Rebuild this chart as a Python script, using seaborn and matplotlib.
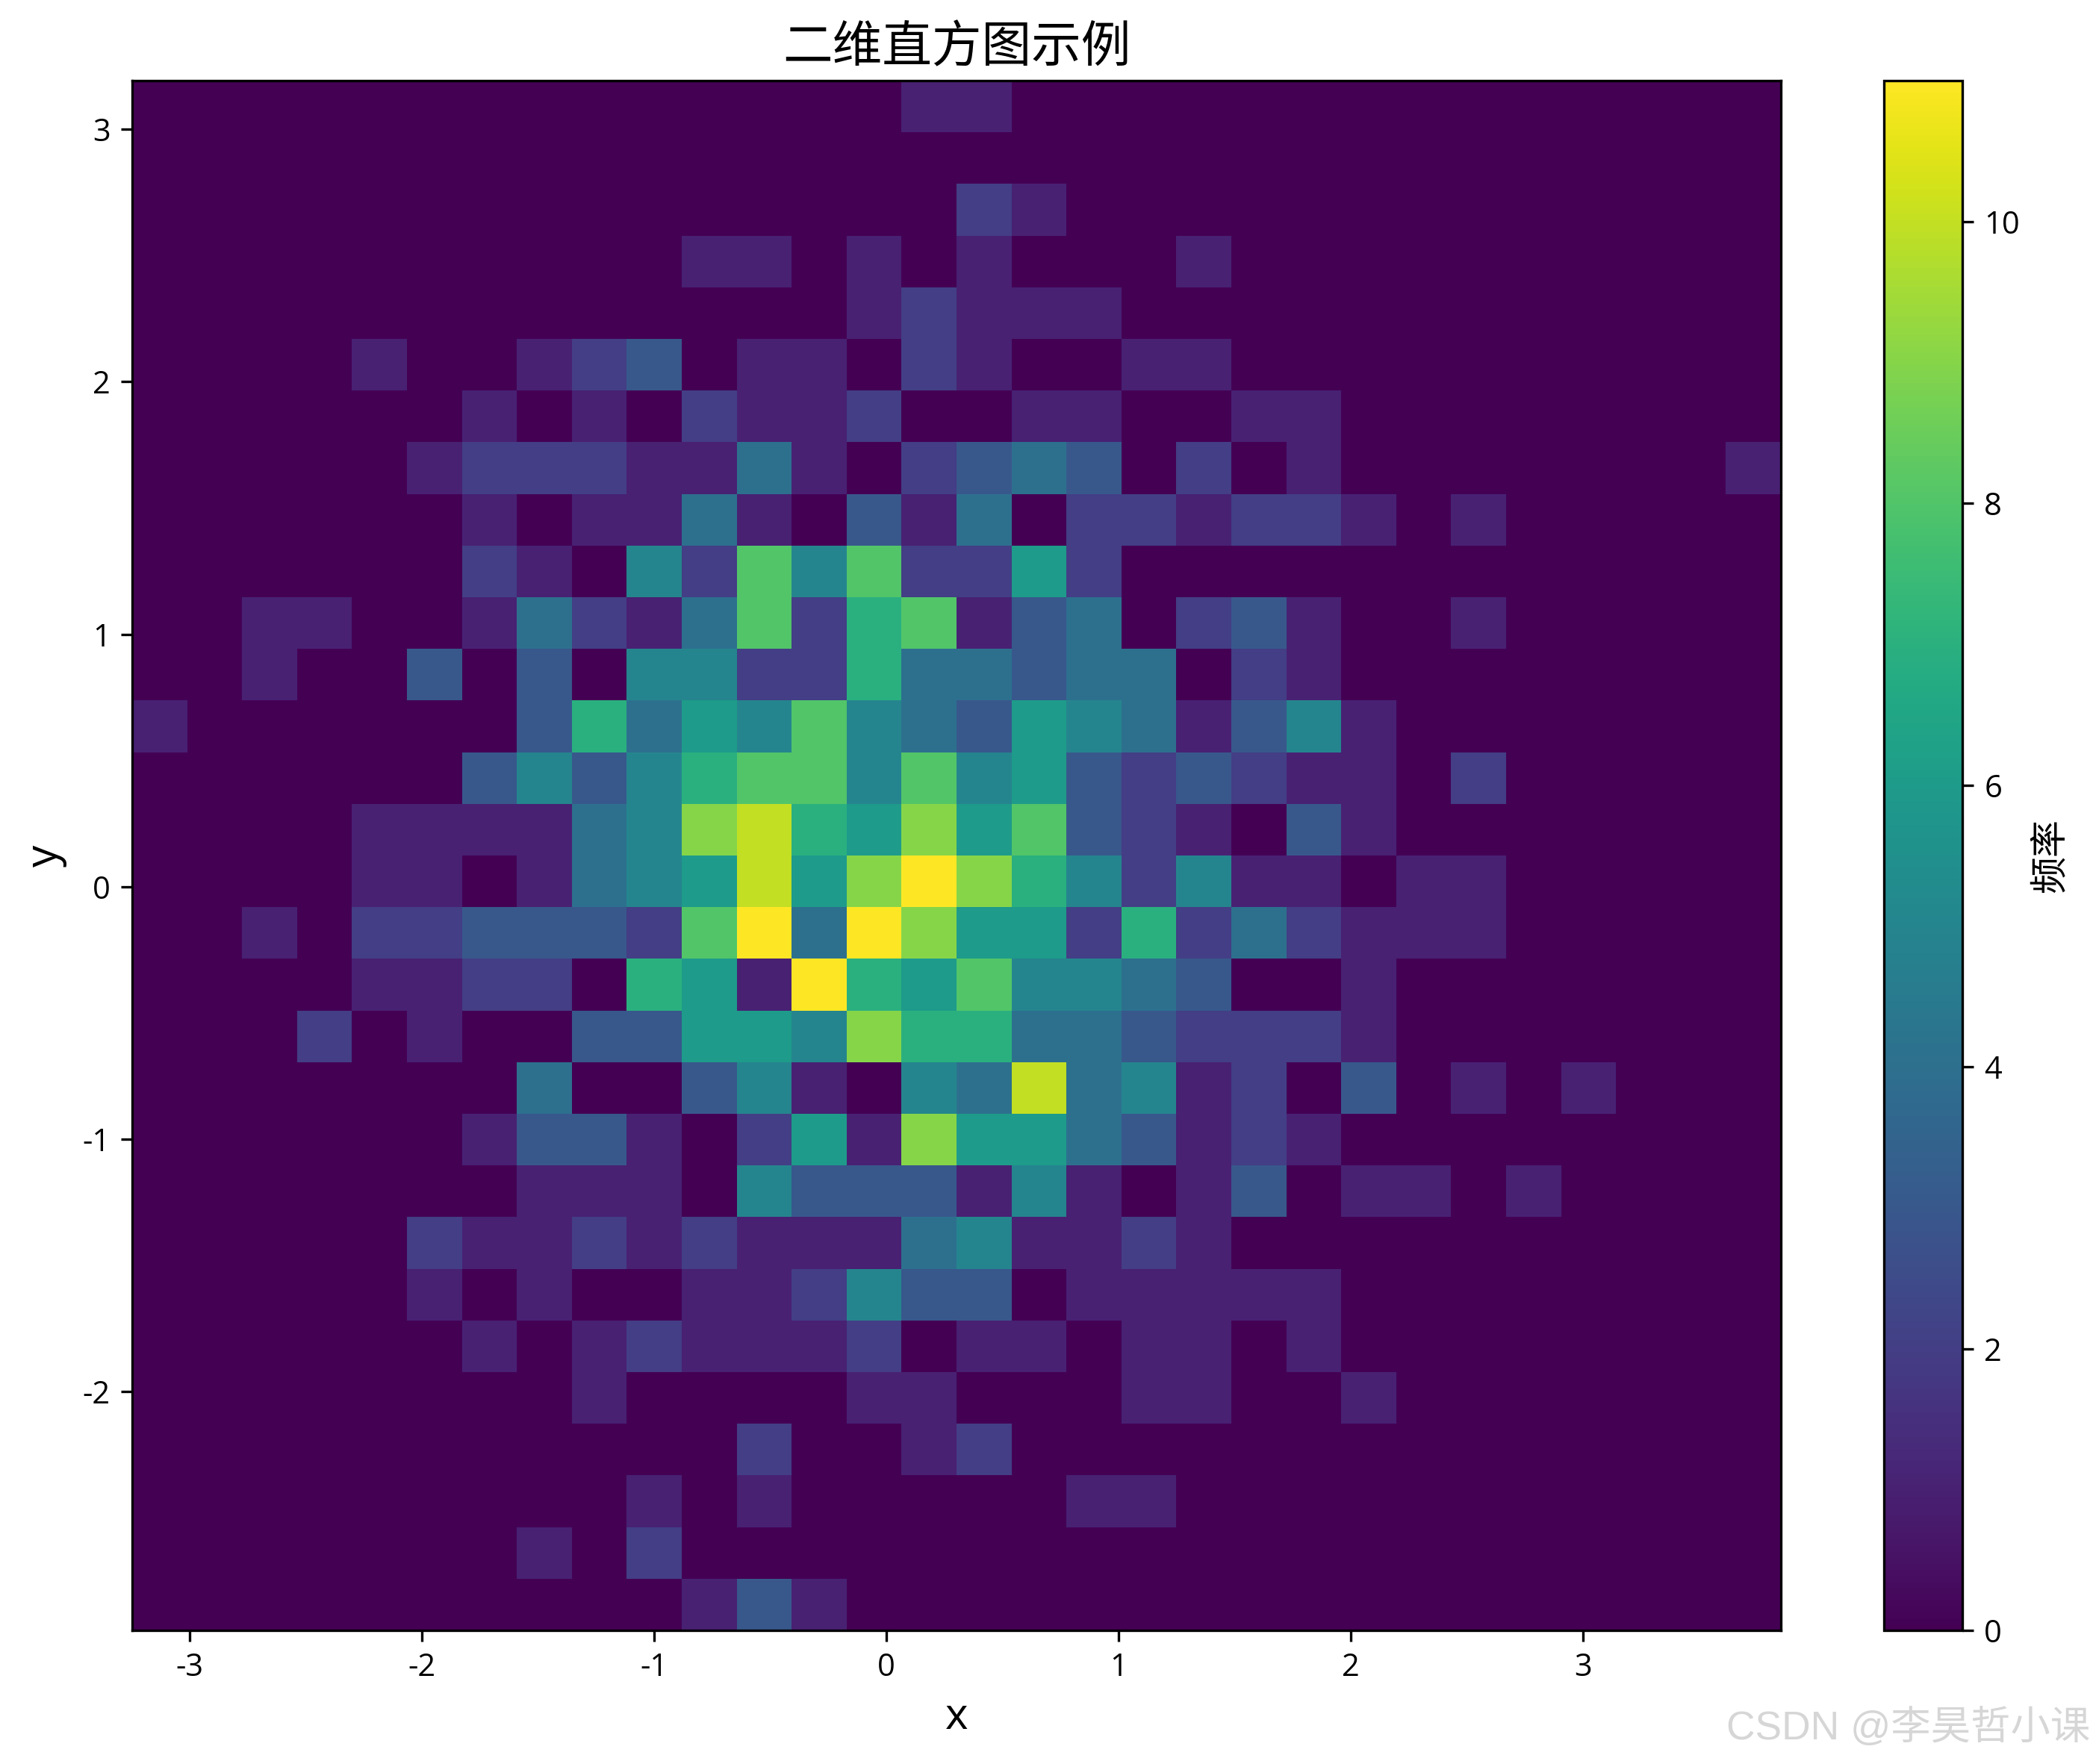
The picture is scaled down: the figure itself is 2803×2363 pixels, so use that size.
import numpy as np
import pandas as pd
import matplotlib
matplotlib.use('Agg')
import matplotlib.pyplot as plt
import seaborn as sns

# 网格范围 (读图得到)
x_min, x_max = -3.246, 3.851
y_min, y_max = -2.945, 3.193
n_bins = 30

# 每行的计数,从上到下
counts = [
    [0,0,0,0,0,0,0,0,0,0,0,0,0,0,1,1,0,0,0,0,0,0,0,0,0,0,0,0,0,0],
    [0,0,0,0,0,0,0,0,0,0,0,0,0,0,0,0,0,0,0,0,0,0,0,0,0,0,0,0,0,0],
    [0,0,0,0,0,0,0,0,0,0,0,0,0,0,0,2,1,0,0,0,0,0,0,0,0,0,0,0,0,0],
    [0,0,0,0,0,0,0,0,0,0,1,1,0,1,0,1,0,0,0,1,0,0,0,0,0,0,0,0,0,0],
    [0,0,0,0,0,0,0,0,0,0,0,0,0,1,2,1,1,1,0,0,0,0,0,0,0,0,0,0,0,0],
    [0,0,0,0,1,0,0,1,2,3,0,1,1,0,2,1,0,0,1,1,0,0,0,0,0,0,0,0,0,0],
    [0,0,0,0,0,0,1,0,1,0,2,1,1,2,0,0,1,1,0,0,1,1,0,0,0,0,0,0,0,0],
    [0,0,0,0,0,1,2,2,2,1,1,4,1,0,2,3,4,3,0,2,0,1,0,0,0,0,0,0,0,1],
    [0,0,0,0,0,0,1,0,1,1,4,1,0,3,1,4,0,2,2,1,2,2,1,0,1,0,0,0,0,0],
    [0,0,0,0,0,0,2,1,0,5,2,8,5,8,2,2,6,2,0,0,0,0,0,0,0,0,0,0,0,0],
    [0,0,1,1,0,0,1,4,2,1,4,8,2,7,8,1,3,4,0,2,3,1,0,0,1,0,0,0,0,0],
    [0,0,1,0,0,3,0,3,0,5,5,2,2,7,4,4,3,4,4,0,2,1,0,0,0,0,0,0,0,0],
    [1,0,0,0,0,0,0,3,7,4,6,5,8,5,4,3,6,5,4,1,3,5,1,0,0,0,0,0,0,0],
    [0,0,0,0,0,0,3,5,3,5,7,8,8,5,8,5,6,3,2,3,2,1,1,0,2,0,0,0,0,0],
    [0,0,0,0,1,1,1,1,4,5,9,10,7,6,9,6,8,3,2,1,0,3,1,0,0,0,0,0,0,0],
    [0,0,0,0,1,1,0,1,4,5,6,10,6,9,11,9,7,5,2,5,1,1,0,1,1,0,0,0,0,0],
    [0,0,1,0,2,2,3,3,3,2,8,11,4,11,9,6,6,2,7,2,4,2,1,1,1,0,0,0,0,0],
    [0,0,0,0,1,1,2,2,0,7,6,1,11,7,6,8,5,5,4,3,0,0,1,0,0,0,0,0,0,0],
    [0,0,0,2,0,1,0,0,3,3,6,6,5,9,7,7,4,4,3,2,2,2,1,0,0,0,0,0,0,0],
    [0,0,0,0,0,0,0,4,0,0,3,5,1,0,5,4,10,4,5,1,2,0,3,0,1,0,1,0,0,0],
    [0,0,0,0,0,0,1,3,3,1,0,2,6,1,9,6,6,4,3,1,2,1,0,0,0,0,0,0,0,0],
    [0,0,0,0,0,0,0,1,1,1,0,5,3,3,3,1,5,1,0,1,3,0,1,1,0,1,0,0,0,0],
    [0,0,0,0,0,2,1,1,2,1,2,1,1,1,4,5,1,1,2,1,0,0,0,0,0,0,0,0,0,0],
    [0,0,0,0,0,1,0,1,0,0,1,1,2,5,3,3,0,1,1,1,1,1,0,0,0,0,0,0,0,0],
    [0,0,0,0,0,0,1,0,1,2,1,1,1,2,0,1,1,0,1,1,0,1,0,0,0,0,0,0,0,0],
    [0,0,0,0,0,0,0,0,1,0,0,0,0,1,1,0,0,0,1,1,0,0,1,0,0,0,0,0,0,0],
    [0,0,0,0,0,0,0,0,0,0,0,2,0,0,1,2,0,0,0,0,0,0,0,0,0,0,0,0,0,0],
    [0,0,0,0,0,0,0,0,0,1,0,1,0,0,0,0,0,1,1,0,0,0,0,0,0,0,0,0,0,0],
    [0,0,0,0,0,0,0,1,0,2,0,0,0,0,0,0,0,0,0,0,0,0,0,0,0,0,0,0,0,0],
    [0,0,0,0,0,0,0,0,0,0,1,3,1,0,0,0,0,0,0,0,0,0,0,0,0,0,0,0,0,0],
]

xticks = [-3, -2, -1, 0, 1, 2, 3]
yticks = [-2, -1, 0, 1, 2, 3]

plt.rcParams['font.family'] = ['Open Sans', 'Noto Sans CJK SC', 'DejaVu Sans']
plt.rcParams['axes.unicode_minus'] = False

x_edges = np.linspace(x_min, x_max, n_bins + 1)
y_edges = np.linspace(y_min, y_max, n_bins + 1)
x_centers = (x_edges[:-1] + x_edges[1:]) / 2
y_centers = (y_edges[:-1] + y_edges[1:]) / 2

# 转成长表,直接用 histplot 的权重画二维直方图
grid = np.array(counts)[::-1]
xx, yy = np.meshgrid(x_centers, y_centers)
df = pd.DataFrame({'x': xx.ravel(), 'y': yy.ravel(), 'n': grid.ravel()})

W, H = 2804, 2363
fig = plt.figure(figsize=(W / 300, H / 300), dpi=300)
ax = fig.add_axes([177 / W, 1 - 2184 / H, 2208 / W, 2076 / H])
cax = fig.add_axes([2523 / W, 1 - 2184 / H, 105 / W, 2076 / H])

sns.histplot(data=df, x='x', y='y', weights='n', bins=[x_edges, y_edges],
             cmap='viridis', thresh=None, cbar=True, cbar_ax=cax,
             cbar_kws={'label': '频率'}, ax=ax)

ax.set_xlim(x_min, x_max)
ax.set_ylim(y_min, y_max)
ax.set_xticks(xticks)
ax.set_yticks(yticks)
ax.tick_params(labelsize=10)
cax.tick_params(labelsize=10)
ax.set_title('二维直方图示例', fontsize=16, pad=6)
ax.set_xlabel('x', fontsize=14)
ax.set_ylabel('y', fontsize=14, labelpad=5)
cax.set_ylabel('频率', fontsize=12)

# 水印
fig.text(2799 / W, 1 - 2314 / H, 'CSDN @李昊哲小课', ha='right', va='center', fontsize=12.8,
         family=['Liberation Sans', 'Noto Sans CJK SC'], color='#d6d6d6')

fig.savefig('out.png', dpi=300)
